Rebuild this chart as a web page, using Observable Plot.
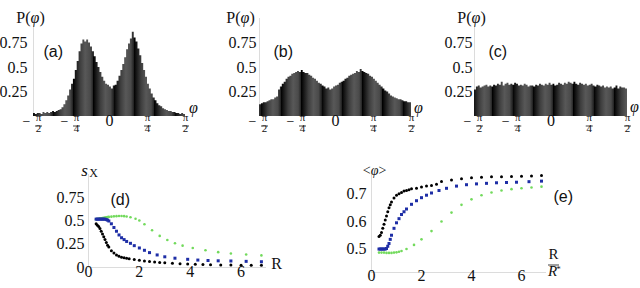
<!DOCTYPE html>
<html><head><meta charset="utf-8">
<script src="https://cdn.jsdelivr.net/npm/d3@7"></script>
<script src="https://cdn.jsdelivr.net/npm/@observablehq/plot@0.6"></script>
<style>
html,body{margin:0;padding:0;background:#fff;}
#chart{position:relative;width:640px;height:288px;overflow:hidden;background:#fff;}
</style></head>
<body><div id="chart"></div>
<script>
// ---------- data ----------
const phiTicks = [-Math.PI/2, -Math.PI/4, 0, Math.PI/4, Math.PI/2];
const tickNum  = ["π","π","0","π","π"];
const tickDen  = ["2","4","","4","2"];
const tickSign = ["−","−","","",""];
const histYTicks = [0.25, 0.5, 0.75];
const histYLabels = ["0.25","0.5","0.75"];

const histA = [0.03,0.02,0.03,0.03,0.02,0.04,0.03,0.04,0.03,0.04,
  0.05,0.04,0.05,0.06,0.07,0.09,0.12,0.16,0.21,0.27,
  0.33,0.38,0.47,0.56,0.66,0.74,0.78,0.76,0.78,0.75,
  0.71,0.66,0.61,0.55,0.50,0.45,0.40,0.36,0.33,0.32,
  0.30,0.28,0.31,0.32,0.36,0.41,0.47,0.53,0.60,0.68,
  0.74,0.79,0.86,0.80,0.76,0.69,0.62,0.54,0.47,0.40,
  0.33,0.28,0.23,0.19,0.16,0.13,0.11,0.10,0.08,0.07,
  0.06,0.05,0.05,0.04,0.04,0.03,0.03,0.02,0.03,0.02];
const histB = [0.12,0.13,0.14,0.14,0.15,0.16,0.17,0.17,0.19,0.20,
  0.27,0.30,0.33,0.35,0.38,0.40,0.41,0.43,0.44,0.45,
  0.46,0.45,0.47,0.45,0.44,0.44,0.42,0.41,0.39,0.38,
  0.36,0.34,0.33,0.31,0.30,0.28,0.29,0.27,0.28,0.30,
  0.31,0.32,0.34,0.35,0.36,0.38,0.39,0.41,0.42,0.43,
  0.44,0.46,0.45,0.48,0.46,0.45,0.44,0.43,0.41,0.40,
  0.38,0.36,0.34,0.32,0.30,0.28,0.26,0.25,0.23,0.21,
  0.20,0.19,0.18,0.17,0.17,0.16,0.15,0.15,0.14,0.14];
const histC = [0.27,0.30,0.31,0.29,0.30,0.31,0.32,0.30,0.31,0.30,
  0.32,0.31,0.33,0.32,0.35,0.31,0.33,0.34,0.32,0.33,
  0.32,0.34,0.33,0.31,0.32,0.31,0.33,0.32,0.30,0.31,
  0.31,0.30,0.32,0.31,0.33,0.32,0.31,0.33,0.32,0.34,
  0.32,0.33,0.31,0.32,0.34,0.33,0.32,0.34,0.33,0.35,
  0.34,0.33,0.35,0.33,0.32,0.34,0.33,0.32,0.33,0.31,
  0.32,0.33,0.31,0.30,0.32,0.31,0.30,0.31,0.29,0.30,
  0.29,0.30,0.28,0.29,0.31,0.28,0.30,0.29,0.29,0.28];

// panel (d): S_X vs R
const dBlackX = [0.3,0.35,0.4,0.45,0.5,0.55,0.6,0.65,0.7,0.75,0.8,0.9,1.0,1.1,1.2,1.3,1.4,1.5,1.6,1.8,2.0,2.2,2.4,2.6,2.8,3.0,3.3,3.6,3.9,4.2,4.5,4.8,5.2,5.6,6.0,6.4,6.8];
const dBlackY = [0.47,0.455,0.44,0.42,0.39,0.36,0.33,0.30,0.27,0.24,0.22,0.18,0.155,0.135,0.12,0.11,0.105,0.10,0.095,0.085,0.078,0.07,0.065,0.06,0.055,0.05,0.045,0.04,0.037,0.034,0.032,0.03,0.028,0.026,0.025,0.024,0.023];
const dBlueX = [0.3,0.35,0.4,0.45,0.5,0.55,0.6,0.65,0.7,0.75,0.8,0.9,1.0,1.1,1.2,1.3,1.4,1.5,1.65,1.8,2.0,2.2,2.4,2.7,3.0,3.4,3.9,4.3,4.7,5.1,5.6,6.2,6.8];
const dBlueY = [0.52,0.52,0.52,0.52,0.52,0.52,0.52,0.52,0.515,0.51,0.50,0.47,0.43,0.39,0.35,0.32,0.30,0.28,0.26,0.235,0.21,0.185,0.16,0.135,0.115,0.10,0.088,0.08,0.075,0.072,0.07,0.066,0.062];
const dGreenX = [0.3,0.35,0.4,0.45,0.5,0.55,0.6,0.65,0.7,0.75,0.8,0.9,1.0,1.1,1.2,1.3,1.4,1.5,1.65,1.85,2.0,2.2,2.5,2.8,3.1,3.4,3.7,4.1,4.6,5.1,5.6,6.2,6.8];
const dGreenY = [0.52,0.522,0.525,0.528,0.53,0.533,0.535,0.537,0.54,0.542,0.544,0.547,0.55,0.552,0.553,0.553,0.552,0.548,0.54,0.525,0.505,0.465,0.40,0.34,0.295,0.26,0.235,0.21,0.185,0.165,0.15,0.14,0.13];
const dYTicks = [0, 0.25, 0.5, 0.75];
const dYLabels = ["0","0.25","0.5","0.75"];

// panel (e): <phi> vs R/R*
const eBlackX = [0.3,0.35,0.4,0.45,0.5,0.55,0.6,0.65,0.7,0.75,0.8,0.9,1.0,1.1,1.2,1.3,1.4,1.5,1.6,1.8,2.0,2.2,2.4,2.6,2.8,3.2,3.6,4.0,4.4,4.8,5.2,5.6,6.0,6.4,6.8];
const eBlackY = [0.545,0.55,0.56,0.575,0.59,0.605,0.62,0.635,0.65,0.66,0.67,0.685,0.695,0.70,0.705,0.71,0.712,0.715,0.718,0.72,0.725,0.728,0.73,0.735,0.745,0.75,0.755,0.758,0.76,0.762,0.762,0.763,0.764,0.765,0.766];
const eBlueX = [0.3,0.35,0.4,0.45,0.5,0.55,0.6,0.65,0.7,0.75,0.8,0.9,1.0,1.1,1.2,1.3,1.4,1.6,1.8,2.0,2.2,2.4,2.7,3.0,3.4,3.8,4.2,4.6,5.0,5.4,5.8,6.3,6.8];
const eBlueY = [0.5,0.5,0.5,0.5,0.5,0.5,0.502,0.51,0.52,0.535,0.55,0.575,0.595,0.61,0.625,0.635,0.645,0.662,0.675,0.686,0.695,0.703,0.712,0.72,0.728,0.733,0.736,0.738,0.74,0.741,0.742,0.744,0.746];
const eGreenX = [0.3,0.4,0.5,0.6,0.7,0.8,0.9,1.0,1.1,1.2,1.4,1.7,2.0,2.4,2.8,3.2,3.6,4.0,4.4,4.8,5.2,5.6,6.0,6.4,6.8];
const eGreenY = [0.487,0.487,0.487,0.486,0.486,0.486,0.487,0.488,0.49,0.493,0.50,0.515,0.535,0.565,0.60,0.632,0.66,0.68,0.695,0.705,0.712,0.717,0.72,0.723,0.726];
const eYTicks = [0.5, 0.6, 0.7];
const eYLabels = ["0.5","0.6","0.7"];
const rXTicks = [0, 2, 4, 6];

// ---------- helpers ----------
const W = 640, H = 288;
const NS = "http://www.w3.org/2000/svg";
const root = document.getElementById("chart");
const SERIF = "'Liberation Serif', 'Times New Roman', serif";
const SANS = "'Liberation Sans', Arial, sans-serif";
const hline = {draw(ctx, size){ const w = Math.sqrt(size/Math.PI); ctx.moveTo(-w,0); ctx.lineTo(w,0); }};
const style = {position:"absolute", left:"0px", top:"0px", background:"transparent", fontFamily:SERIF, overflow:"visible"};

function makePlot(o){
  const svg = Plot.plot({
    width: W, height: H,
    marginLeft: o.l, marginRight: W - o.r, marginTop: o.t, marginBottom: H - o.b,
    x: {domain: o.xd, axis: null},
    y: {domain: o.yd, axis: null},
    style, marks: o.marks
  });
  root.appendChild(svg);
  return svg;
}

function addStripes(svg, id, phase){
  const defs = document.createElementNS(NS, "defs");
  const g = document.createElementNS(NS, "linearGradient");
  g.setAttribute("id", id);
  g.setAttribute("gradientUnits", "userSpaceOnUse");
  g.setAttribute("x1", phase); g.setAttribute("x2", phase + 20.3);
  g.setAttribute("y1", 0); g.setAttribute("y2", 0);
  g.setAttribute("spreadMethod", "repeat");
  [[0,"#000"],[0.12,"#161616"],[0.35,"#3e3e3e"],[0.6,"#585858"],[0.85,"#4a4a4a"],[1,"#202020"]].forEach(([o,c])=>{
    const s = document.createElementNS(NS, "stop");
    s.setAttribute("offset", o); s.setAttribute("stop-color", c); g.appendChild(s);
  });
  defs.appendChild(g);
  svg.insertBefore(defs, svg.firstChild);
}

const T = (extra) => Object.assign({fontFamily: SERIF, fill: "#111"}, extra);

function histPanel(vals, o){
  const n = vals.length, w = Math.PI / n;
  const pts = vals.map((v,i)=>({x: -Math.PI/2 + i*w, y: v}));
  pts.push({x: Math.PI/2, y: vals[n-1]});
  const ticks = phiTicks.map((v,i)=>({v, num: tickNum[i], den: tickDen[i], sign: tickSign[i]}));
  const neg = ticks.filter(d=>d.sign), pos = ticks.filter(d=>!d.sign && d.den), zero = ticks.filter(d=>!d.den);
  const yt = histYTicks.map((v,i)=>({v, t: histYLabels[i]}));
  const svg = makePlot({
    l: o.l, r: o.r, t: 18, b: 116, xd: [-Math.PI/2, Math.PI/2], yd: [0, 1],
    marks: [
      Plot.ruleX([-Math.PI/2], {y1: 0, y2: 1, stroke: "#dcdcdc", strokeWidth: 1}),
      Plot.areaY(pts, {x: "x", y: "y", curve: "step-after", fill: `url(#${o.id})`}),
      Plot.text(yt, T({y: "v", text: "t", frameAnchor: "left", textAnchor: "end", dx: o.ydx, fontSize: 16})),
      // x tick labels (fractions of pi)
      Plot.text(zero, T({x: "v", text: "num", frameAnchor: "bottom", dy: 9.5, fontSize: 16})),
      Plot.text(pos, T({x: "v", text: "num", frameAnchor: "bottom", dy: 4.5, fontSize: 11})),
      Plot.dot(pos, {x: "v", frameAnchor: "bottom", dy: 9.5, symbol: hline, r: 3.5, stroke: "#111", strokeWidth: 0.8, fill: "none"}),
      Plot.text(pos, T({x: "v", text: "den", frameAnchor: "bottom", dy: 15, fontSize: 11})),
      Plot.text(neg, T({x: "v", text: "sign", frameAnchor: "bottom", dx: -7, dy: 9, fontSize: 14})),
      Plot.text(neg, T({x: "v", text: "num", frameAnchor: "bottom", dx: 5, dy: 4.5, fontSize: 11})),
      Plot.dot(neg, {x: "v", frameAnchor: "bottom", dx: 5, dy: 9.5, symbol: hline, r: 3.5, stroke: "#111", strokeWidth: 0.8, fill: "none"}),
      Plot.text(neg, T({x: "v", text: "den", frameAnchor: "bottom", dx: 5, dy: 15, fontSize: 11})),
      // axis titles
      Plot.text(["P(φ)"], T({text: d=>d, frameAnchor: "top-left", dx: o.pdx, dy: -7, textAnchor: "middle", fontSize: 16})),
      Plot.text(["φ"], T({text: d=>d, frameAnchor: "bottom-right", dx: o.fdx, dy: o.fdy, textAnchor: "middle", fontSize: 16, fontStyle: "italic"})),
      Plot.text([o.label], T({text: d=>d, frameAnchor: "top-left", dx: o.ldx, dy: 27, textAnchor: "start", fontSize: 16, fontFamily: SANS}))
    ]
  });
  addStripes(svg, o.id, o.phase);
}

function pts(xs, ys){ return xs.map((x,i)=>({x, y: ys[i]})); }

// ---------- top panels ----------
histPanel(histA, {id: "stripeA", l: 33, r: 185, phase: 73, ydx: -6, pdx: -3, fdx: 8, fdy: -4, label: "(a)", ldx: 10});
histPanel(histB, {id: "stripeB", l: 259, r: 411, phase: 281, ydx: -3, pdx: -19, fdx: 7, fdy: -4, label: "(b)", ldx: 14});
histPanel(histC, {id: "stripeC", l: 474, r: 627, phase: 472, ydx: -2, pdx: -3, fdx: 7, fdy: -5, label: "(c)", ldx: 14});

// ---------- panel (d) ----------
makePlot({
  l: 88, r: 266, t: 174, b: 267, xd: [0, 7], yd: [0, 1],
  marks: [
    Plot.ruleX([0], {y1: 0, y2: 1, stroke: "#dcdcdc"}),
    Plot.ruleY([0], {x1: 0, x2: 7, stroke: "#dcdcdc"}),
    Plot.dot(pts(dGreenX, dGreenY), {x: "x", y: "y", r: 1.3, fill: "#72da5c", stroke: "none"}),
    Plot.dot(pts(dBlueX, dBlueY), {x: "x", y: "y", r: 1.7, symbol: "square", fill: "#1e2ea6", stroke: "none"}),
    Plot.dot(pts(dBlackX, dBlackY), {x: "x", y: "y", r: 1.5, fill: "#000", stroke: "none"}),
    Plot.text(dYTicks.map((v,i)=>({v, t: dYLabels[i]})), T({y: "v", text: "t", frameAnchor: "left", textAnchor: "end", dx: -4, fontSize: 16})),
    Plot.text(rXTicks, T({x: d=>d, text: d=>String(d), frameAnchor: "bottom", dy: 9, fontSize: 16})),
    Plot.text(["s"], T({text: d=>d, frameAnchor: "top-left", dx: -4, dy: -11, textAnchor: "middle", fontSize: 17, fontStyle: "italic"})),
    Plot.text(["X"], T({text: d=>d, frameAnchor: "top-left", dx: 5, dy: -6.5, textAnchor: "middle", fontSize: 12})),
    Plot.text(["R"], T({text: d=>d, frameAnchor: "bottom-right", dx: 10, dy: 1, textAnchor: "middle", fontSize: 16})),
    Plot.text(["(d)"], T({text: d=>d, frameAnchor: "top-left", dx: 22, dy: 19, textAnchor: "start", fontSize: 16, fontFamily: SANS}))
  ]
});

// ---------- panel (e) ----------
makePlot({
  l: 371, r: 546, t: 174, b: 272, xd: [0, 7], yd: [0.415, 0.77],
  marks: [
    Plot.ruleX([0], {y1: 0.415, y2: 0.77, stroke: "#dcdcdc"}),
    Plot.ruleY([0.415], {x1: 0, x2: 7, stroke: "#dcdcdc"}),
    Plot.dot(pts(eGreenX, eGreenY), {x: "x", y: "y", r: 1.3, fill: "#72da5c", stroke: "none"}),
    Plot.dot(pts(eBlueX, eBlueY), {x: "x", y: "y", r: 1.7, symbol: "square", fill: "#1e2ea6", stroke: "none"}),
    Plot.dot(pts(eBlackX, eBlackY), {x: "x", y: "y", r: 1.5, fill: "#000", stroke: "none"}),
    Plot.text(eYTicks.map((v,i)=>({v, t: eYLabels[i]})), T({y: "v", text: "t", frameAnchor: "left", textAnchor: "end", dx: -5, fontSize: 16})),
    Plot.text(rXTicks, T({x: d=>d, text: d=>String(d), frameAnchor: "bottom", dy: 8, fontSize: 16})),
    Plot.text(["<φ>"], T({text: d=>d, frameAnchor: "top-left", dx: 3, dy: -9, textAnchor: "middle", fontSize: 14})),
    Plot.text(["R"], T({text: d=>d, frameAnchor: "bottom-right", dx: 7, dy: -14, textAnchor: "middle", fontSize: 15})),
    Plot.dot(["—"], {frameAnchor: "bottom-right", dx: 7, dy: -7.5, symbol: hline, r: 5.5, stroke: "#111", strokeWidth: 0.8, fill: "none"}),
    Plot.text(["R"], T({text: d=>d, frameAnchor: "bottom-right", dx: 6, dy: 3, textAnchor: "middle", fontSize: 15, fontStyle: "italic"})),
    Plot.text(["*"], T({text: d=>d, frameAnchor: "bottom-right", dx: 12, dy: -1, textAnchor: "middle", fontSize: 9})),
    Plot.text(["(e)"], T({text: d=>d, frameAnchor: "top-right", dx: 7, dy: 16, textAnchor: "start", fontSize: 16, fontFamily: SANS}))
  ]
});

// italic phi inside mixed labels (built with DOM nodes, text stays text)
root.querySelectorAll("text").forEach(t=>{
  const s = t.textContent;
  if (s.length > 1 && s.includes("φ") && t.children.length === 0) {
    t.textContent = "";
    s.split(/(φ)/).forEach(part=>{
      if (!part) return;
      if (part === "φ") {
        const ts = document.createElementNS(NS, "tspan");
        ts.setAttribute("font-style", "italic");
        ts.textContent = part;
        t.appendChild(ts);
      } else t.appendChild(document.createTextNode(part));
    });
  }
});
</script>
</body></html>
